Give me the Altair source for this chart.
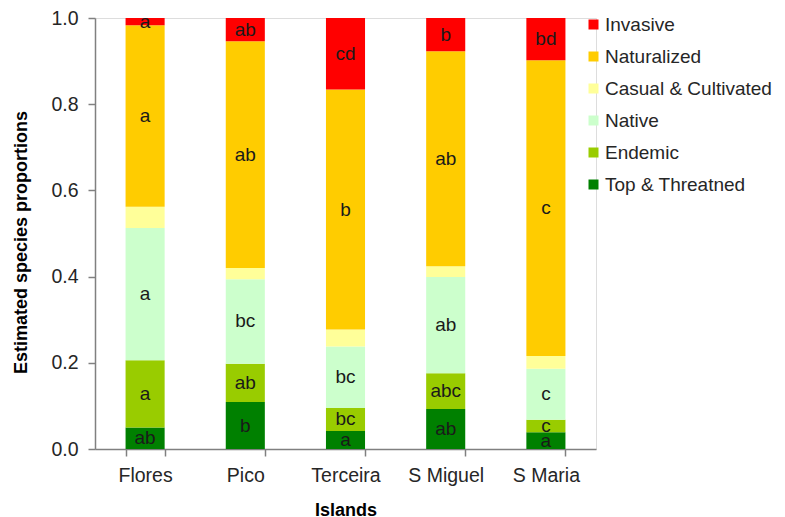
import altair as alt
import pandas as pd

islands = ["Flores", "Pico", "Terceira", "S Miguel", "S Maria"]
categories = ["Invasive", "Naturalized", "Casual & Cultivated", "Native", "Endemic", "Top & Threatned"]
colors = ["#FF0000", "#FFCC00", "#FFFF99", "#CCFFCC", "#99CC00", "#008000"]

# proportions per category (order: islands)
top_threat = [0.050, 0.109, 0.042, 0.093, 0.039]
endemic = [0.156, 0.089, 0.053, 0.083, 0.029]
native = [0.307, 0.196, 0.143, 0.223, 0.118]
casual = [0.049, 0.026, 0.039, 0.025, 0.030]
naturalized = [0.421, 0.526, 0.557, 0.499, 0.686]
invasive = [0.017, 0.054, 0.166, 0.077, 0.098]

lab_top = ["ab", "b", "a", "ab", "a"]
lab_end = ["a", "ab", "bc", "abc", "c"]
lab_nat = ["a", "bc", "bc", "ab", "c"]
lab_cas = ["", "", "", "", ""]
lab_natz = ["a", "ab", "b", "ab", "c"]
lab_inv = ["a", "ab", "cd", "b", "bd"]

series = {
    "Top & Threatned": (top_threat, lab_top, 0),
    "Endemic": (endemic, lab_end, 1),
    "Native": (native, lab_nat, 2),
    "Casual & Cultivated": (casual, lab_cas, 3),
    "Naturalized": (naturalized, lab_natz, 4),
    "Invasive": (invasive, lab_inv, 5),
}

rows = []
for cat, (vals, labs, order) in series.items():
    for isl, v, l in zip(islands, vals, labs):
        rows.append({"island": isl, "category": cat, "value": v, "label": l, "ord": order})
df = pd.DataFrame(rows)

FONT = "Liberation Sans"

base = alt.Chart(df).transform_stack(
    stack="value", groupby=["island"], sort=[alt.SortField("ord", order="ascending")], as_=["y0", "y1"]
)

x_enc = alt.X(
    "island:N",
    sort=islands,
    scale=alt.Scale(paddingInner=0.61, paddingOuter=0.305),
    axis=alt.Axis(
        title="Islands",
        labelAngle=0,
        tickBand="extent",
        tickSize=7,
        labelPadding=10,
        labelFontSize=19.5,
        labelFont=FONT,
        labelColor="#262626",
        titleFont=FONT,
        titleFontSize=18,
        titleFontWeight="bold",
        titleColor="#000000",
        titlePadding=17,
        domainColor="#808080",
        tickColor="#808080",
        domainWidth=1.5,
        tickWidth=1.5,
    ),
)

bars = base.mark_bar(stroke=None).encode(
    x=x_enc,
    y=alt.Y(
        "y0:Q",
        scale=alt.Scale(domain=[0, 1], nice=False),
        axis=alt.Axis(
            title="Estimated species proportions",
            values=[0, 0.2, 0.4, 0.6, 0.8, 1.0],
            format=".1f",
            grid=False,
            tickSize=7,
            labelPadding=10,
            labelFontSize=19.5,
            labelFont=FONT,
            labelColor="#262626",
            titleFont=FONT,
            titleFontSize=18,
            titleFontWeight="bold",
            titleColor="#000000",
            titlePadding=20,
            titleY=224,
            domainColor="#808080",
            tickColor="#808080",
            domainWidth=1.5,
            tickWidth=1.5,
        ),
    ),
    y2="y1:Q",
    color=alt.Color(
        "category:N",
        scale=alt.Scale(domain=categories, range=colors),
        legend=alt.Legend(
            title=None,
            orient="none",
            legendX=489,
            legendY=-3,
            symbolType="square",
            symbolSize=100,
            symbolStrokeWidth=0,
            labelFontSize=19,
            labelFont=FONT,
            labelColor="#262626",
            labelLimit=400,
            rowPadding=12,
            labelOffset=2,
        ),
    ),
)

texts = base.transform_calculate(mid="(datum.y0 + datum.y1) / 2").transform_filter(
    "datum.label != ''"
).mark_text(font=FONT, fontSize=19, color="#1a1a1a", baseline="middle").encode(
    x=alt.X("island:N", sort=islands),
    y=alt.Y("mid:Q"),
    text="label:N",
)

chart = alt.layer(bars, texts).properties(
    width=501,
    height=431,
    autosize=alt.AutoSizeParams(type="none"),
    padding={"left": 95, "top": 18, "right": 189, "bottom": 68},
).configure_view(stroke=None).configure(background="white")

chart.save("out.html", embed_options={"renderer": "svg", "actions": False})
